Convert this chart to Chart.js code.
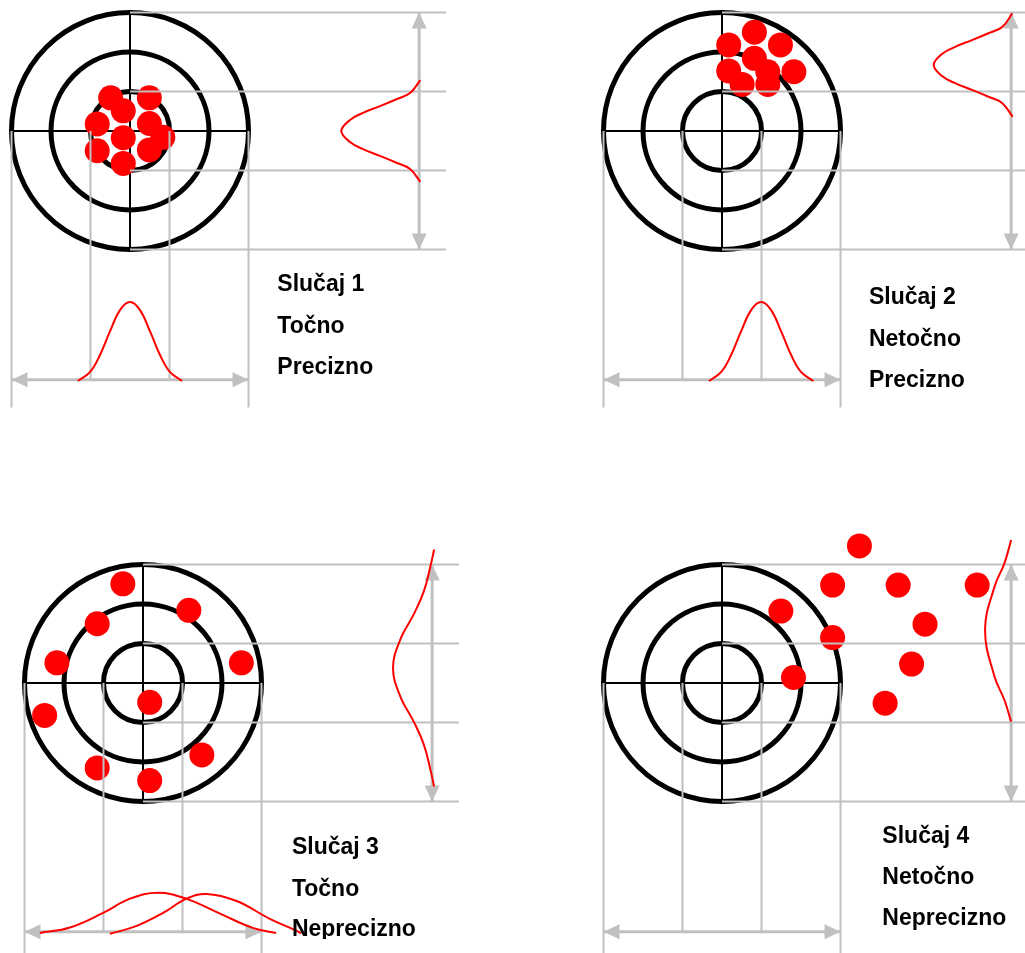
<!DOCTYPE html>
<html>
<head>
<meta charset="utf-8">
<title>Točnost i preciznost</title>
<script src="https://cdn.jsdelivr.net/npm/chart.js@4.4.1/dist/chart.umd.min.js"></script>
<style>
    html, body { margin: 0; padding: 0; background: #fff; overflow: hidden; }
    body { width: 1025px; height: 953px; position: relative; }
    canvas { position: absolute; }
</style>
</head>
<body>
<canvas id="slucaj1" width="460" height="460"></canvas>
<canvas id="slucaj2" width="460" height="460"></canvas>
<canvas id="slucaj3" width="460" height="460"></canvas>
<canvas id="slucaj4" width="460" height="460"></canvas>
<script>
/** Podaci: sve vrijednosti su u jedinicama polumjera unutarnjeg kruga mete */
const ringRadii = [1, 2, 3]

// Slučaj 1 - pogoci
const hits1X = [-0.49, 0.49, -0.17, -0.83, 0.49, -0.17, 0.83, -0.83, 0.49, -0.17]
const hits1Y = [0.84, 0.84, 0.51, 0.18, 0.19, -0.17, -0.16, -0.50, -0.48, -0.82]
// Slučaj 2
const hits2X = [0.17, 0.82, 1.48, 0.82, 0.17, 1.16, 1.82, 0.51, 1.16]
const hits2Y = [2.18, 2.50, 2.18, 1.84, 1.52, 1.50, 1.50, 1.18, 1.18]
// Slučaj 3
const hits3X = [-0.51, 1.16, -1.16, -2.18, 2.49, 0.17, -2.49, 1.49, -1.16, 0.17]
const hits3Y = [2.51, 1.84, 1.50, 0.51, 0.51, -0.49, -0.82, -1.82, -2.15, -2.47]
// Slučaj 4
const hits4X = [3.48, 2.80, 4.46, 6.46, 1.49, 5.14, 2.80, 4.80, 1.81, 4.13]
const hits4Y = [3.47, 2.48, 2.48, 2.48, 1.82, 1.49, 1.15, 0.48, 0.14, -0.51]

// raspodjele (položaj na osi, gustoća)
const dist1XPos = [-1.32, -1.01, -0.76, -0.51, -0.25, 0, 0.25, 0.51, 0.76, 1.01, 1.32]
const dist1XDen = [-0.03, 0.20, 0.63, 1.22, 1.77, 1.97, 1.77, 1.22, 0.63, 0.20, -0.03]
const dist1YPos = [-1.29, -0.96, -0.81, -0.63, -0.46, -0.28, 0, 0.28, 0.46, 0.63, 0.81, 0.96, 1.29]
const dist1YDen = [-0.03, 0.23, 0.56, 0.99, 1.42, 1.75, 1.97, 1.75, 1.42, 0.99, 0.56, 0.23, -0.03]

const dist2XPos = [-0.33, -0.02, 0.23, 0.48, 0.74, 0.99, 1.24, 1.50, 1.75, 2.00, 2.31]
const dist2XDen = [-0.03, 0.20, 0.63, 1.22, 1.77, 1.97, 1.77, 1.22, 0.63, 0.20, -0.03]
const dist2YPos = [0.36, 0.71, 0.86, 1.04, 1.21, 1.39, 1.67, 1.95, 2.13, 2.30, 2.48, 2.63, 2.98]
const dist2YDen = [-0.04, 0.23, 0.56, 0.99, 1.42, 1.75, 1.96, 1.75, 1.42, 0.99, 0.56, 0.23, -0.03]

const dist3XPos = [-2.61, -1.85, -1.01, -0.33, 0.38, 1.09, 1.95, 2.78, 3.37]
const dist3XDen = [-0.03, 0.11, 0.48, 0.84, 0.99, 0.84, 0.46, 0.10, -0.03]
const dist3X2Pos = [-0.84, -0.16, 0.51, 1.10, 1.61, 2.37, 3.21, 3.88, 4.01]
const dist3X2Den = [-0.05, 0.15, 0.48, 0.84, 0.96, 0.78, 0.33, 0.03, -0.04]
const dist3YPos = [-2.62, -2.25, -1.59, -0.99, -0.33, 0.38, 1.09, 1.75, 2.35, 3.01, 3.38]
const dist3YDen = [-0.05, 0.03, 0.20, 0.46, 0.81, 0.99, 0.81, 0.46, 0.20, 0.03, -0.05]

const dist4YPos = [-0.98, -0.43, 0.16, 1.34, 2.44, 3.03, 3.62]
const dist4YDen = [0, 0.17, 0.42, 0.66, 0.42, 0.17, 0]

const labels1 = ['Slučaj 1', 'Točno', 'Precizno']
const labels2 = ['Slučaj 2', 'Netočno', 'Precizno']
const labels3 = ['Slučaj 3', 'Točno', 'Neprecizno']
const labels4 = ['Slučaj 4', 'Netočno', 'Neprecizno']

/** Raspored */
const PX = 39.5                     // piksela po jedinici
const LEFT = 140, RIGHT = 320, TOP = 170, BOTTOM = 290
const GUIDE_END_X = 8, GUIDE_END_Y = -7
const ARROW_Y = -6.3, ARROW_X = 7.32
const GREY = '#c0c0c0', RED = '#ff0000'

function pts(xs, ys) {
    return xs.map((x, i) => ({ x: x, y: ys[i] }))
}

function seg(x1, y1, x2, y2, color, width, order, arrow) {
    return {
        data: [{ x: x1, y: y1 }, { x: x2, y: y2 }],
        showLine: true, borderColor: color, borderWidth: width,
        pointRadius: 0, order: order, arrow: !!arrow
    }
}

function unitPx(chart) {
    return chart.scales.x.getPixelForValue(1) - chart.scales.x.getPixelForValue(0)
}

function xCurve(pos, den) {
    return {
        data: pos.map((p, i) => ({ x: p, y: ARROW_Y + den[i] })),
        showLine: true, tension: 0.4, borderColor: RED, borderWidth: 2, pointRadius: 0, order: 1
    }
}

function yCurve(pos, den) {
    return {
        data: pos.map((p, i) => ({ x: ARROW_X - den[i], y: p })),
        showLine: true, tension: 0.4, borderColor: RED, borderWidth: 2, pointRadius: 0, order: 1
    }
}

/** vrhovi strelica */
const arrowHeads = {
    id: 'arrowHeads',
    afterDatasetDraw(chart, args) {
        const ds = chart.data.datasets[args.index]
        if (!ds.arrow) return
        const p = args.meta.data
        const ctx = chart.ctx
        ctx.save()
        ctx.fillStyle = GREY
        ;[[p[0], p[1]], [p[1], p[0]]].forEach(([tip, from]) => {
            const dx = tip.x - from.x, dy = tip.y - from.y
            const len = Math.hypot(dx, dy)
            const ux = dx / len, uy = dy / len
            const bx = tip.x - ux * 16, by = tip.y - uy * 16
            ctx.beginPath()
            ctx.moveTo(tip.x, tip.y)
            ctx.lineTo(bx - uy * 7.5, by + ux * 7.5)
            ctx.lineTo(bx + uy * 7.5, by - ux * 7.5)
            ctx.closePath()
            ctx.fill()
        })
        ctx.restore()
    }
}

/** natpisi slučaja */
const caseLabels = {
    id: 'caseLabels',
    afterDatasetsDraw(chart, args, opts) {
        const { ctx, scales: { x, y } } = chart
        ctx.save()
        if (opts.clipY !== null) {
            ctx.beginPath()
            ctx.rect(0, 0, chart.width, y.getPixelForValue(opts.clipY))
            ctx.clip()
        }
        ctx.font = 'bold 23px "Liberation Sans", Arial, sans-serif'
        ctx.fillStyle = '#000'
        ctx.textBaseline = 'middle'
        opts.lines.forEach((t, i) => {
            ctx.fillText(t, x.getPixelForValue(opts.x), y.getPixelForValue(opts.ys[i]))
        })
        ctx.restore()
    }
}

function crtajSlucaj(id, center, hitsX, hitsY, xDists, yDists, lines, textX, textY, clipY) {
    const canvas = document.getElementById(id)
    canvas.style.left = (center[0] - LEFT) + 'px'
    canvas.style.top = (center[1] - TOP) + 'px'

    const datasets = []
    // krugovi mete
    datasets.push({
        data: ringRadii.map(r => ({ x: 0, y: 0, r: r })),
        pointRadius: c => c.raw ? c.raw.r * unitPx(c.chart) : 0,
        pointBorderWidth: 5, pointBorderColor: '#000',
        pointBackgroundColor: 'rgba(0,0,0,0)', showLine: false, order: 6
    })
    // križ
    datasets.push(seg(-3, 0, 3, 0, '#000', 2, 5))
    datasets.push(seg(0, -3, 0, 3, '#000', 2, 5))
    // pogoci
    datasets.push({
        data: pts(hitsX, hitsY), pointRadius: 12.5, pointBorderWidth: 0,
        pointBackgroundColor: RED, showLine: false, order: 4
    })
    // pomoćne linije
    ;[3, 1, -1, -3].forEach(v => datasets.push(seg(0, v, GUIDE_END_X, v, GREY, 2, 3)))
    ;[-3, 3].forEach(v => datasets.push(seg(v, 0, v, GUIDE_END_Y, GREY, 2, 3)))
    ;[-1, 1].forEach(v => datasets.push(seg(v, 0, v, ARROW_Y, GREY, 2, 3)))
    // strelice
    datasets.push(seg(-3, ARROW_Y, 3, ARROW_Y, GREY, 3, 2, true))
    datasets.push(seg(ARROW_X, 3, ARROW_X, -3, GREY, 3, 2, true))
    // raspodjele
    xDists.forEach(d => datasets.push(xCurve(d[0], d[1])))
    yDists.forEach(d => datasets.push(yCurve(d[0], d[1])))

    new Chart(canvas.getContext('2d'), {
        type: 'scatter',
        data: { datasets: datasets },
        plugins: [arrowHeads, caseLabels],
        options: {
            responsive: false,
            devicePixelRatio: 1,
            animation: false,
            events: [],
            layout: { padding: 0, autoPadding: false },
            scales: {
                x: { type: 'linear', bounds: 'data', min: -LEFT / PX, max: RIGHT / PX, display: false },
                y: { type: 'linear', bounds: 'data', min: -BOTTOM / PX, max: TOP / PX, display: false }
            },
            plugins: {
                legend: { display: false },
                tooltip: { enabled: false },
                caseLabels: { lines: lines, x: textX, ys: textY, clipY: clipY }
            }
        }
    })
}

crtajSlucaj('slucaj1', [130, 131], hits1X, hits1Y,
    [[dist1XPos, dist1XDen]], [[dist1YPos, dist1YDen]],
    labels1, 3.73, [-3.90, -4.96, -6.00], -6.19)
crtajSlucaj('slucaj2', [722, 131], hits2X, hits2Y,
    [[dist2XPos, dist2XDen]], [[dist2YPos, dist2YDen]],
    labels2, 3.72, [-4.23, -5.29, -6.33], null)
crtajSlucaj('slucaj3', [143, 683], hits3X, hits3Y,
    [[dist3XPos, dist3XDen], [dist3X2Pos, dist3X2Den]], [[dist3YPos, dist3YDen]],
    labels3, 3.77, [-4.18, -5.22, -6.25], -6.48)
crtajSlucaj('slucaj4', [722, 683], hits4X, hits4Y,
    [], [[dist4YPos, dist4YDen]],
    labels4, 4.06, [-3.90, -4.94, -5.97], null)
</script>
</body>
</html>
